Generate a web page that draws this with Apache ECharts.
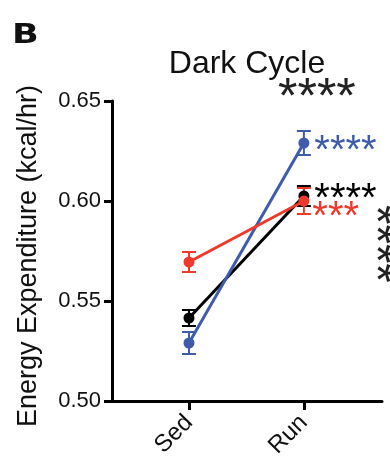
<!DOCTYPE html>
<html>
<head>
<meta charset="utf-8">
<style>html,body{margin:0;padding:0;background:#fff}#chart{width:390px;height:473px}</style>
<script src="https://cdn.jsdelivr.net/npm/echarts@6/dist/echarts.min.js"></script>
</head>
<body>
<div id="chart"></div>
<script>
// Groups on the x axis
const categories = ['Sed', 'Run'];
// Mean energy expenditure (kcal/hr) per group
const blackMean = [0.5415, 0.6025];
const redMean = [0.5695, 0.6000];
const blueMean = [0.5290, 0.6290];
// Standard errors
const blackErr = [0.0040, 0.0050];
const redErr = [0.0050, 0.0065];
const blueErr = [0.0055, 0.0060];
// Significance marks beside the Run points
const blackStars = '****';
const redStars = '***';
const blueStars = '****';
const yTicks = [0.50, 0.55, 0.60, 0.65];

const BLACK = '#000000', RED = '#EE3A2C', BLUE = '#3F5BAA';
const FONT = 'Liberation Sans, Arial, sans-serif';

function lineSeries(name, mean, color, stars, starOffset) {
  return {
    name: name, type: 'line', z: 3,
    data: mean.map((v, i) => ({
      value: [i, v],
      label: i === 1 ? {
        show: true, position: 'right', formatter: stars, color: color,
        fontSize: 40, fontFamily: FONT, offset: starOffset
      } : { show: false }
    })),
    symbol: 'circle', symbolSize: 11,
    lineStyle: { color: color, width: 3 },
    itemStyle: { color: color },
    emphasis: { disabled: true }
  };
}

function errSeries(mean, err, color) {
  return {
    type: 'custom', z: 2,
    data: mean.map((v, i) => [i, v - err[i], v + err[i]]),
    renderItem: function (params, api) {
      const lo = api.coord([api.value(0), api.value(1)]);
      const hi = api.coord([api.value(0), api.value(2)]);
      const w = 7;
      const st = { stroke: color, lineWidth: 2 };
      return {
        type: 'group', children: [
          { type: 'line', shape: { x1: lo[0], y1: lo[1], x2: hi[0], y2: hi[1] }, style: st },
          { type: 'line', shape: { x1: lo[0] - w, y1: lo[1], x2: lo[0] + w, y2: lo[1] }, style: st },
          { type: 'line', shape: { x1: hi[0] - w, y1: hi[1], x2: hi[0] + w, y2: hi[1] }, style: st }
        ]
      };
    }
  };
}

const chart = echarts.init(document.getElementById('chart'), null, { renderer: 'canvas' });
chart.setOption({
  animation: false,
  backgroundColor: '#fff',
  title: {
    text: 'Dark Cycle', left: 242, top: 43, textAlign: 'center',
    textStyle: { fontFamily: FONT, fontSize: 32, fontWeight: 'normal', color: '#111' }
  },
  grid: { left: 112, right: 8, top: 101, bottom: 72 },
  xAxis: {
    type: 'value', min: -0.67, max: 1.68,
    splitLine: { show: false },
    axisLine: { show: true, onZero: false, lineStyle: { color: '#000', width: 3 } },
    axisTick: { show: true, customValues: [0, 1], length: 9, lineStyle: { color: '#000', width: 3 } },
    axisLabel: {
      customValues: [0, 1], rotate: 45, fontSize: 24, fontFamily: FONT, color: '#111', margin: 18,
      padding: [26, 0, 0, 0],
      formatter: v => categories[Math.round(v)]
    }
  },
  yAxis: {
    type: 'value', min: 0.50, max: 0.65, interval: 0.05,
    splitLine: { show: false },
    axisLine: { show: true, onZero: false, lineStyle: { color: '#000', width: 3 } },
    axisTick: { show: true, length: 8, lineStyle: { color: '#000', width: 3 } },
    axisLabel: {
      fontSize: 22, fontFamily: FONT, color: '#111', margin: 11,
      customValues: yTicks, formatter: v => v.toFixed(2)
    }
  },
  graphic: [
    { type: 'text', x: 29, y: 256, rotation: Math.PI / 2,
      style: { text: 'Energy Expenditure (kcal/hr)', fontFamily: FONT, fontSize: 27, fill: '#111', align: 'center', verticalAlign: 'middle' } },
    { type: 'text', left: 12, top: 22, scaleX: 1.3, style: { text: 'B', fontFamily: 'DejaVu Sans', fontWeight: 900, fontSize: 27, fill: '#111' } },
    { type: 'text', left: 278, top: 74, style: { text: '****', fontFamily: FONT, fontSize: 50, fill: '#222' } },
    { type: 'text', x: 399, y: 205, rotation: -Math.PI / 2, style: { text: '****', fontFamily: FONT, fontSize: 50, fill: '#222' } }
  ],
  series: [
    errSeries(blackMean, blackErr, BLACK),
    errSeries(blueMean, blueErr, BLUE),
    errSeries(redMean, redErr, RED),
    lineSeries('Black', blackMean, BLACK, blackStars, [0, 4]),
    lineSeries('Blue', blueMean, BLUE, blueStars, [0, 9]),
    lineSeries('Red', redMean, RED, redStars, [-2, 17])
  ]
});
</script>
</body>
</html>
